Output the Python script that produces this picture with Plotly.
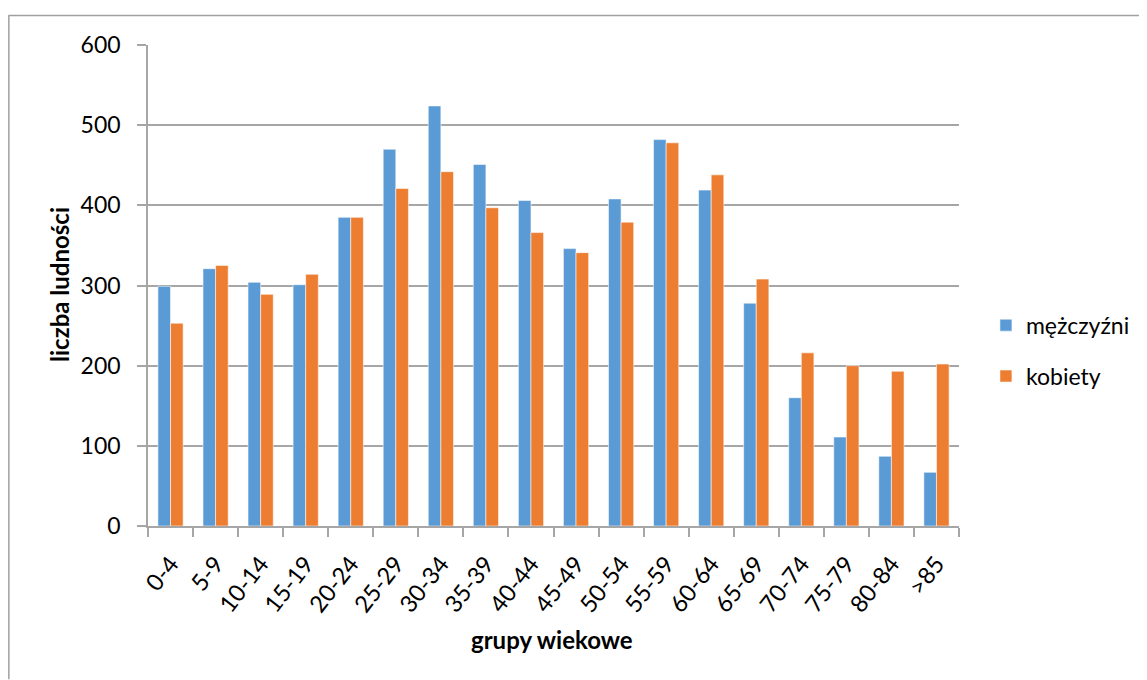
import plotly.graph_objects as go

categories = ["0-4", "5-9", "10-14", "15-19", "20-24", "25-29", "30-34", "35-39",
              "40-44", "45-49", "50-54", "55-59", "60-64", "65-69", "70-74",
              "75-79", "80-84", ">85"]
men = [299, 321, 304, 301, 385, 470, 524, 451, 406, 346, 408, 482, 419, 278, 160, 111, 87, 67]
women = [253, 325, 289, 314, 385, 421, 442, 397, 366, 341, 379, 478, 438, 308, 216, 200, 193, 202]
y_ticks = [0, 100, 200, 300, 400, 500, 600]

FONT = "Lato"
BLUE = "#5B9BD5"
ORANGE = "#ED7D31"
GRID = "#A6A6A6"

fig = go.Figure()
fig.add_trace(go.Bar(x=categories, y=men, name="mężczyźni", legendgroup="m",
                     marker=dict(color=BLUE, line=dict(color="rgba(255,255,255,0.55)", width=1))))
fig.add_trace(go.Bar(x=categories, y=women, name="kobiety", legendgroup="k",
                     marker=dict(color=ORANGE, line=dict(color="rgba(255,255,255,0.55)", width=1))))

# page has an 8px body margin; target pixel coords are for the screenshot
OFF = 8
W, H = 1147 - OFF, 680 - OFF
L, R, T, B = 148 - OFF, 961 - OFF, 45 - OFF, 526.5 - OFF
pw, ph = R - L, B - T

def px(x):
    return (x - OFF - L) / pw

def py(y):
    return (B - (y - OFF)) / ph

fig.update_layout(
    width=W, height=H,
    margin=dict(l=L, r=W - R, t=T, b=H - B, pad=0),
    paper_bgcolor="white", plot_bgcolor="white",
    barmode="group", bargap=0.44, bargroupgap=0,
    font=dict(family=FONT, size=23, color="black"),
    showlegend=True,
    legend=dict(x=px(988), y=py(351), xanchor="left", yanchor="middle",
                traceorder="grouped", tracegroupgap=18,
                font=dict(family=FONT, size=23, color="black"),
                bgcolor="rgba(0,0,0,0)"),
    xaxis=dict(type="category", showgrid=False, showline=True, linecolor=GRID, linewidth=1.5,
               ticks="outside", tickson="boundaries", ticklen=9, tickcolor=GRID, tickwidth=1.5,
               tickangle=-52, tickfont=dict(family=FONT, size=23.5, color="black"),
               ticklabelstandoff=13),
    yaxis=dict(range=[0, 600], tickvals=y_ticks, showgrid=True, gridcolor=GRID, gridwidth=1.5,
               showline=True, linecolor=GRID, linewidth=1.5, ticks="outside", ticklen=9,
               tickcolor=GRID, tickwidth=1.5, zeroline=False,
               tickfont=dict(family=FONT, size=23, color="black"), ticklabelstandoff=12),
    annotations=[
        dict(text="<b>grupy wiekowe</b>", x=px(553), y=py(640), xref="paper", yref="paper",
             showarrow=False, xanchor="center", yanchor="middle",
             font=dict(family=FONT, size=24, color="black")),
        dict(text="<b>liczba ludności</b>", x=px(60), y=py(285), xref="paper", yref="paper",
             showarrow=False, xanchor="center", yanchor="middle", textangle=-90,
             font=dict(family=FONT, size=24, color="black")),
    ],
    shapes=[
        dict(type="line", xref="paper", yref="paper", x0=px(8), x1=px(1147), y0=py(15.5), y1=py(15.5),
             line=dict(color="#A0A0A0", width=1.5)),
        dict(type="line", xref="paper", yref="paper", x0=px(8.5), x1=px(8.5), y0=py(15.5), y1=py(680),
             line=dict(color="#A0A0A0", width=1.5)),
    ],
)

fig.write_html("out.html")
